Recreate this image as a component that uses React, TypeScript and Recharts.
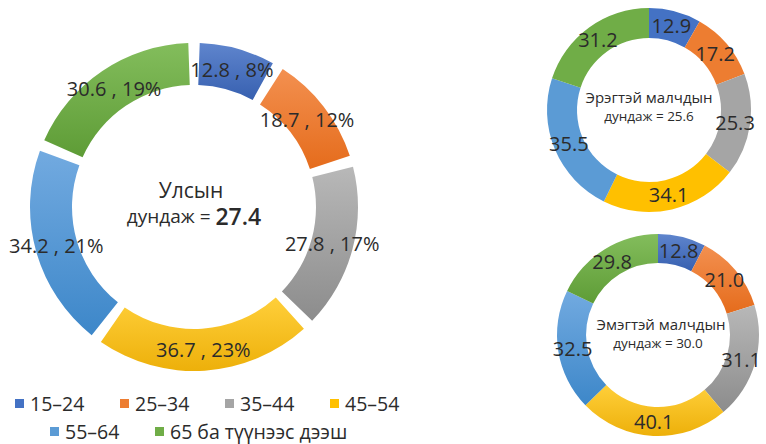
import { PieChart, Pie, Cell, Legend } from 'recharts'

const ageGroups = ['15–24', '25–34', '35–44', '45–54', '55–64', '65 ба түүнээс дээш']
const nationalAges = [12.8, 18.7, 27.8, 36.7, 34.2, 30.6]
const maleAges = [12.9, 17.2, 25.3, 34.1, 35.5, 31.2]
const femaleAges = [12.8, 21.0, 31.1, 40.1, 32.5, 29.8]
const nationalAvg = '27.4'
const maleAvg = '25.6'
const femaleAvg = '30.0'

const colors = ['#4472C4', '#ED7D31', '#A5A5A5', '#FFC000', '#5B9BD5', '#70AD47']
const lightStops = ['#5F85CD', '#F39050', '#B8B8B8', '#FFCF3A', '#72AAE0', '#83BD5C']
const darkStops = ['#3760B0', '#E56C1C', '#8C8C8C', '#EDB00A', '#3D87C9', '#5E9C36']

const toRows = (vals: number[]) => ageGroups.map((name, i) => ({ name, value: vals[i] }))
const nationalData = toRows(nationalAges)
const maleData = toRows(maleAges)
const femaleData = toRows(femaleAges)

const BIG = { cx: 194, cy: 207, inner: 122, outer: 164 }
const MALE = { cx: 649, cy: 110, inner: 72, outer: 102 }
const FEMALE = { cx: 658, cy: 335, inner: 72, outer: 101 }

const RAD = Math.PI / 180
const textColor = '#2b2b2b'

function ringLabel(withPct: boolean) {
  return (p: any) => {
    const r = (p.innerRadius + p.outerRadius) / 2
    const x = p.cx + r * Math.cos(-p.midAngle * RAD)
    const y = p.cy + r * Math.sin(-p.midAngle * RAD)
    const txt = withPct
      ? `${Number(p.value).toFixed(1)} , ${Math.round(p.percent * 100)}%`
      : Number(p.value).toFixed(1)
    return (
      <text x={x} y={y} textAnchor="middle" dominantBaseline="central" fill={textColor} fontSize={20}>
        {txt}
      </text>
    )
  }
}

function LegendRows() {
  const item = (i: number) => (
    <div key={i} style={{ display: 'flex', alignItems: 'center', width: i === 5 ? 230 : 105 }}>
      <span style={{ width: 9, height: 9, background: colors[i], marginRight: 6, display: 'inline-block' }} />
      <span style={{ fontSize: 19.5, color: textColor, lineHeight: '26px' }}>{ageGroups[i]}</span>
    </div>
  )
  return (
    <div>
      <div style={{ display: 'flex', marginLeft: 15, height: 29 }}>{[0, 1, 2, 3].map(item)}</div>
      <div style={{ display: 'flex', marginLeft: 50, height: 27 }}>{[4, 5].map(item)}</div>
    </div>
  )
}

export default function App() {
  const pad = 4
  return (
    <div style={{ position: 'absolute', left: 0, top: 0, fontFamily: '"Open Sans", sans-serif', background: '#fff' }}>
      <PieChart width={766} height={444} margin={{ top: 0, right: 0, bottom: 0, left: 0 }}>
        <defs>
          {colors.map((c, i) => (
            <linearGradient key={c} id={`g${i}`} x1="0" y1="0" x2="0" y2="1">
              <stop offset="0%" stopColor={lightStops[i]} />
              <stop offset="100%" stopColor={darkStops[i]} />
            </linearGradient>
          ))}
        </defs>
        <Pie
          data={nationalData}
          dataKey="value"
          nameKey="name"
          cx={BIG.cx}
          cy={BIG.cy}
          innerRadius={BIG.inner}
          outerRadius={BIG.outer}
          startAngle={90 - pad / 2}
          endAngle={90 - pad / 2 - 360}
          paddingAngle={pad}
          stroke="none"
          label={ringLabel(true)}
          labelLine={false}
          isAnimationActive={false}
        >
          {nationalData.map((d, i) => (
            <Cell key={d.name} fill={`url(#g${i})`} />
          ))}
        </Pie>
        <Pie
          data={maleData}
          dataKey="value"
          nameKey="name"
          cx={MALE.cx}
          cy={MALE.cy}
          innerRadius={MALE.inner}
          outerRadius={MALE.outer}
          startAngle={90}
          endAngle={-270}
          stroke="none"
          label={ringLabel(false)}
          labelLine={false}
          isAnimationActive={false}
          legendType="none"
        >
          {maleData.map((d, i) => (
            <Cell key={d.name} fill={colors[i]} />
          ))}
        </Pie>
        <Pie
          data={femaleData}
          dataKey="value"
          nameKey="name"
          cx={FEMALE.cx}
          cy={FEMALE.cy}
          innerRadius={FEMALE.inner}
          outerRadius={FEMALE.outer}
          startAngle={90}
          endAngle={-270}
          stroke="none"
          label={ringLabel(false)}
          labelLine={false}
          isAnimationActive={false}
          legendType="none"
        >
          {femaleData.map((d, i) => (
            <Cell key={d.name} fill={`url(#g${i})`} />
          ))}
        </Pie>

        <text x={BIG.cx - 3} y={BIG.cy - 17} textAnchor="middle" dominantBaseline="central" fill={textColor} fontSize={21}>
          Улсын
        </text>
        <text x={BIG.cx} y={BIG.cy + 9} textAnchor="middle" dominantBaseline="central" fill={textColor}>
          <tspan fontSize={19}>дундаж = </tspan>
          <tspan fontSize={23} fontWeight={600}>{nationalAvg}</tspan>
        </text>

        <text x={MALE.cx} y={MALE.cy - 13} textAnchor="middle" dominantBaseline="central" fill={textColor} fontSize={15}>
          Эрэгтэй малчдын
        </text>
        <text x={MALE.cx} y={MALE.cy + 6} textAnchor="middle" dominantBaseline="central" fill={textColor} fontSize={13.5}>
          дундаж = {maleAvg}
        </text>

        <text x={FEMALE.cx + 3} y={FEMALE.cy - 11} textAnchor="middle" dominantBaseline="central" fill={textColor} fontSize={15}>
          Эмэгтэй малчдын
        </text>
        <text x={FEMALE.cx} y={FEMALE.cy + 8} textAnchor="middle" dominantBaseline="central" fill={textColor} fontSize={13.5}>
          дундаж = {femaleAvg}
        </text>

        <Legend
          verticalAlign="bottom"
          content={() => <LegendRows />}
          wrapperStyle={{ left: 0, top: 389, width: 450, bottom: 'auto' }}
        />
      </PieChart>
    </div>
  )
}
